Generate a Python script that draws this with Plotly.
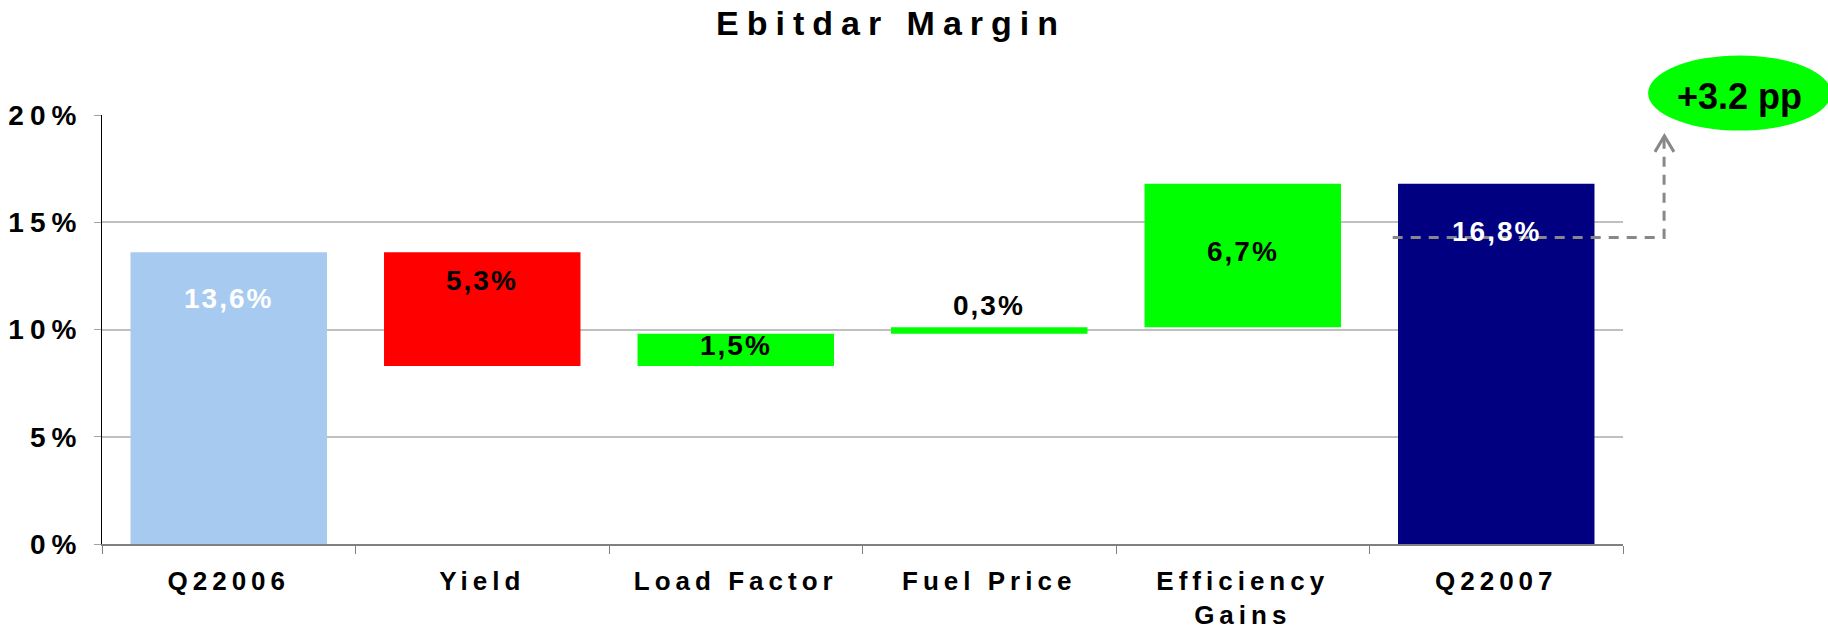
import plotly.graph_objects as go

# ---- data ----
categories = ["Q22006", "Yield", "Load Factor", "Fuel Price", "Efficiency<br>Gains", "Q22007"]
values = [13.6, -5.3, 1.5, 0.3, 6.7, 16.8]
measures = ["absolute", "relative", "relative", "relative", "relative", "total"]
y_tick_vals = [0, 5, 10, 15, 20]
y_tick_text = ["0%", "5%", "10%", "15%", "20%"]
title_text = "Ebitdar Margin"

# ---- styles ----
bar_colors = ["#a7caf0", "#ff0000", "#00ff00", "#00ff00", "#00ff00", "#000080"]
label_colors = ["white", "black", "black", "black", "black", "white"]
label_anchor = ["top", "top", "center", "top", "center", "top"]
label_shift = [-46, -28, 4, 22, 4, -48]
FONT = "Liberation Sans, Arial, sans-serif"

# waterfall geometry computed from the values
bases, heights = [], []
running = 0.0
for v, m in zip(values, measures):
    if m in ("absolute", "total"):
        bases.append(0.0); heights.append(v); running = v
    else:
        if v < 0:
            bases.append(running + v); heights.append(-v)
        else:
            bases.append(running); heights.append(v)
        running += v

fig = go.Figure()
fig.add_trace(go.Bar(
    x=categories, y=heights, base=bases,
    marker=dict(color=bar_colors, line=dict(width=0)),
    width=0.775, hoverinfo="skip", showlegend=False,
))

annotations = []
for i, (c, v, b, h) in enumerate(zip(categories, values, bases, heights)):
    yy = b + h if label_anchor[i] == "top" else b + h / 2
    annotations.append(dict(
        x=c, y=yy, xref="x", yref="y", showarrow=False,
        text=f"{abs(v):.1f}%".replace(".", ","),
        yshift=label_shift[i], yanchor="middle",
        font=dict(family=FONT, size=28, color=label_colors[i], weight="bold"),
    ))

delta = values[-1] - values[0]
annotations.append(dict(
    x=1.0769, y=1.0437, xref="paper", yref="paper", showarrow=False,
    text=f"+{delta:.1f} pp", xanchor="center", yanchor="middle",
    font=dict(family=FONT, size=36, color="black", weight="bold"),
))

shapes = [
    dict(type="path", xref="paper", yref="y",
         path="M 0.8486,14.29 L 1.0270,14.29 L 1.0270,18.95",
         line=dict(color="#888888", width=3, dash="10px,8px")),
    dict(type="path", xref="paper", yref="y",
         path="M 1.0210,18.28 L 1.0272,19.02 L 1.0335,18.28",
         line=dict(color="#888888", width=3)),
    dict(type="circle", xref="paper", yref="paper",
         x0=1.0165, x1=1.1368, y0=0.9636, y1=1.1387,
         fillcolor="#00ff00", line=dict(width=0)),
]

fig.update_layout(
    width=1828, height=632,
    margin=dict(l=102, r=205, t=115, b=88, autoexpand=False),
    paper_bgcolor="white", plot_bgcolor="white",
    title=dict(text=title_text, x=891 / 1828, xanchor="center", xref="container",
               y=1 - 23 / 632, yanchor="middle", yref="container",
               font=dict(family=FONT, size=34, color="black", weight="bold")),
    annotations=annotations, shapes=shapes,
    bargap=0.225,
)
fig.update_xaxes(
    automargin=False,
    showline=True, linecolor="#808080", linewidth=2,
    ticks="outside", tickson="boundaries", ticklen=8, tickcolor="#808080", tickwidth=1,
    tickfont=dict(family=FONT, size=26, color="black", weight="bold"),
    ticklabelstandoff=13, showgrid=False,
)
fig.update_yaxes(
    automargin=False,
    range=[0, 20], tickvals=y_tick_vals, ticktext=y_tick_text,
    showline=True, linecolor="black", linewidth=1,
    ticks="outside", ticklen=7, tickcolor="#a0a0a0",
    showgrid=True, gridcolor="#c0c0c0", gridwidth=1.5, zeroline=False,
    tickfont=dict(family=FONT, size=28, color="black", weight="bold"),
    ticklabelstandoff=6,
)

post = """
document.documentElement.style.margin = '0';
document.body.style.margin = '0';
document.body.style.padding = '0';
document.body.style.overflow = 'hidden';
var gd = document.getElementById('{plot_id}');
function sp(sel, v){ gd.querySelectorAll(sel).forEach(function(e){ e.style.letterSpacing = v; }); }
sp('.gtitle', '8px');
sp('.xtick text', '5px');
sp('.ytick text', '6px');
gd.querySelectorAll('.annotation').forEach(function(a){
  var idx = parseInt(a.getAttribute('data-index'));
  if (idx < 6) { a.querySelectorAll('text').forEach(function(t){ t.style.letterSpacing = '2px'; }); }
});
"""
fig.write_html("out.html", post_script=post, config={"displayModeBar": False})
